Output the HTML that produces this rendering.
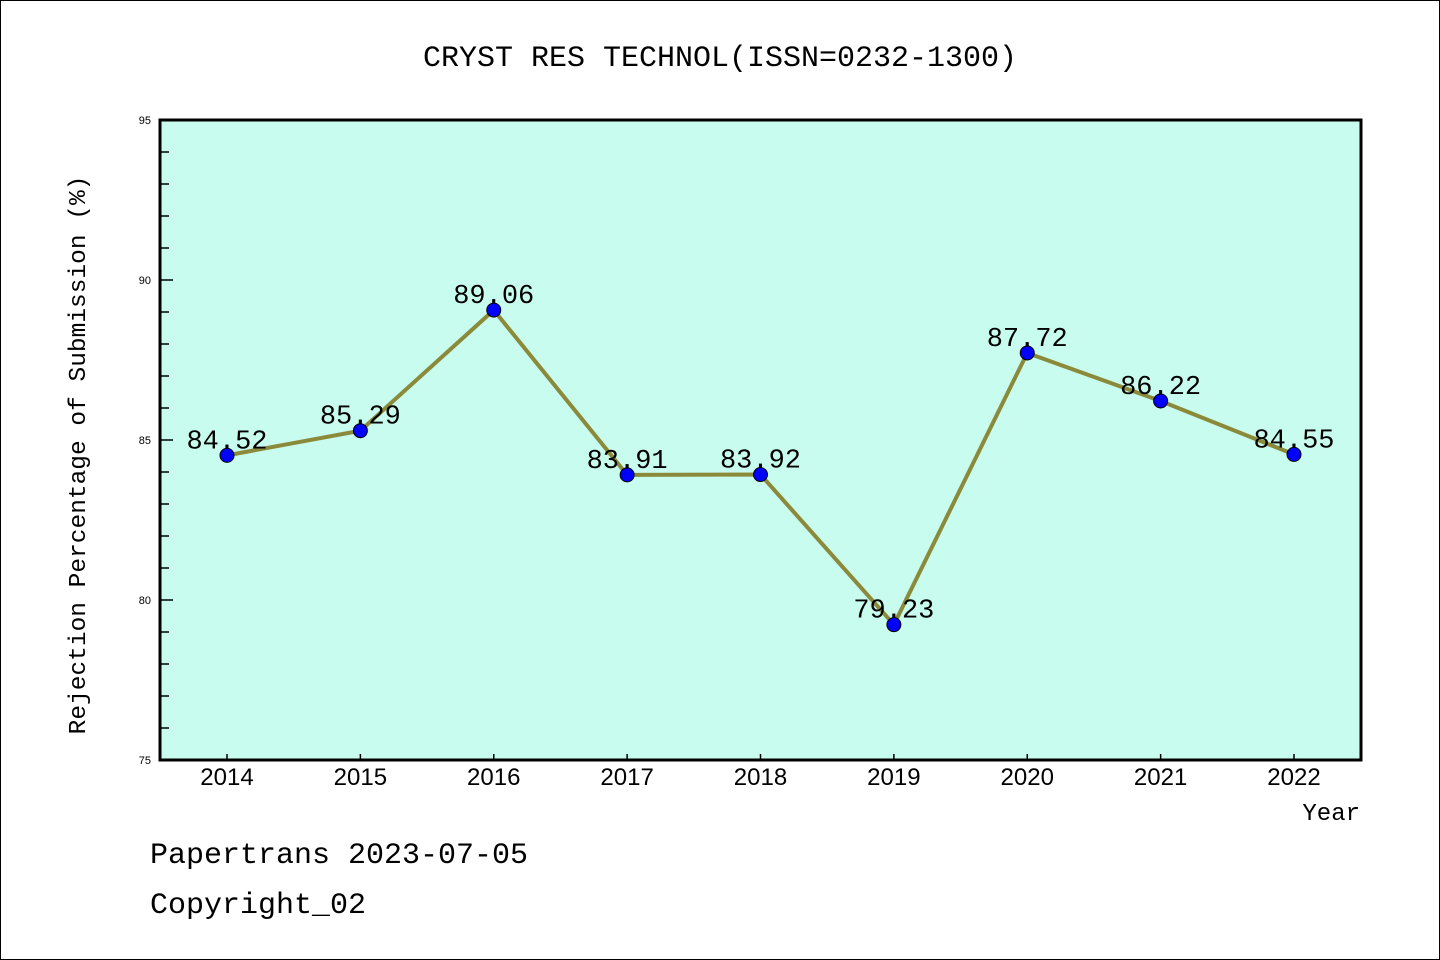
<!DOCTYPE html>
<html><head><meta charset="utf-8"><style>
body{margin:0;background:#fff}
svg{display:block;font-family:"Liberation Mono","DejaVu Sans Mono",monospace}
</style></head><body>
<svg id="chart" width="1440" height="960">
<rect x="0.5" y="0.5" width="1439" height="959" fill="#fff" stroke="#000"/>
<text x="720" y="66" text-anchor="middle" font-size="30">CRYST RES TECHNOL(ISSN=0232-1300)</text>
<rect x="160" y="120" width="1201" height="640" fill="#c8fcee"/>
<g id="axes"></g>
<g id="series"></g>
<rect x="160" y="120" width="1201" height="640" fill="none" stroke="#000" stroke-width="3"/>
<text transform="translate(85,455) rotate(-90)" text-anchor="middle" font-size="24.5">Rejection Percentage of Submission (%)</text>
<text x="1360" y="820" text-anchor="end" font-size="24">Year</text>
<text x="150" y="863" font-size="30">Papertrans 2023-07-05</text>
<text x="150" y="913" font-size="30">Copyright_02</text>
</svg>
<script>
const years = ["2014","2015","2016","2017","2018","2019","2020","2021","2022"];
const rates = [84.52,85.29,89.06,83.91,83.92,79.23,87.72,86.22,84.55];
const labels = ["84.52","85.29","89.06","83.91","83.92","79.23","87.72","86.22","84.55"];
const yTicks = [75,80,85,90,95];
const NS="http://www.w3.org/2000/svg";
const yMin=75,yMax=95,plotTop=120,plotBot=760;
function ys(v){return plotBot-(v-yMin)/(yMax-yMin)*(plotBot-plotTop);}
function xs(i){return 227+i*(1294-227)/(years.length-1);}
function mk(tag,attrs,parent){const e=document.createElementNS(NS,tag);for(const k in attrs)e.setAttribute(k,attrs[k]);parent.appendChild(e);return e;}
const ax=document.getElementById('axes'),se=document.getElementById('series');
for(let v=yMin+1;v<yMax;v++){
  const major=v%5===0;
  const t=mk('line',{x1:160,x2:major?173:169,y1:ys(v),y2:ys(v),stroke:'#000','stroke-width':1.5},ax);
  
  
}
yTicks.forEach(v=>{
  const t=mk('text',{x:151,y:ys(v)+4,'text-anchor':'end','font-size':11,'font-family':'Liberation Sans, sans-serif'},ax);
  t.textContent=v;
  
  
});
years.forEach((y,i)=>{
  const t=mk('line',{x1:xs(i),x2:xs(i),y1:760,y2:754,stroke:'#000','stroke-width':1.5},ax);
  
  
  const l=mk('text',{x:xs(i),y:785,'text-anchor':'middle','font-size':24,'font-family':'Liberation Sans, sans-serif'},ax);
  l.textContent=y;
  
  
});
const pts=rates.map((v,i)=>xs(i)+','+ys(v)).join(' ');
const line=mk('polyline',{points:pts,fill:'none',stroke:'#8b8a3a','stroke-width':4},se);


rates.forEach((v,i)=>{
  const c=mk('circle',{cx:xs(i),cy:ys(v),r:7,fill:'#0000ff',stroke:'#000','stroke-width':1},se);
  
  
  const t=mk('text',{x:xs(i),y:ys(v)-7,'text-anchor':'middle','font-size':27},se);
  t.textContent=labels[i];
  
  
});
</script>
</body></html>
